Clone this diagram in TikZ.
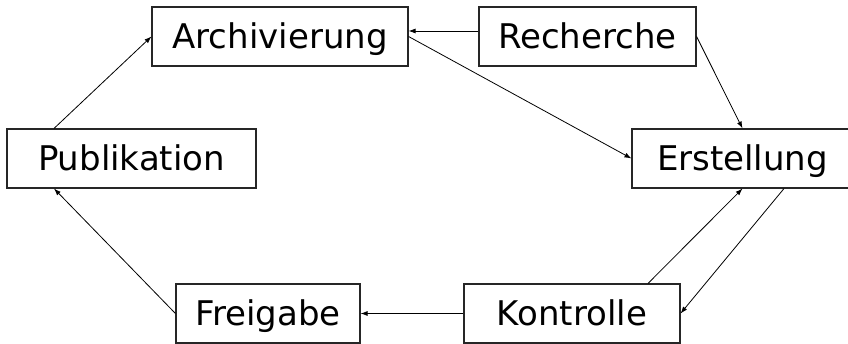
\documentclass[tikz,border=0pt]{standalone}
\usepackage{fontspec}
\setmainfont{DejaVu Sans}
\usetikzlibrary{arrows.meta}
\begin{document}
\begin{tikzpicture}[x=1pt,y=-1pt,
  stage/.style={draw=black!85, line width=1.1pt, fill=white,
    minimum height=59pt, inner sep=0pt,
    text height=25pt, text depth=0pt,
    font=\fontsize{34}{40}\selectfont},
  flow/.style={line width=0.8pt, -{Latex[length=7pt,width=5pt]}}]
  \useasboundingbox (0,0) rectangle (848,344);
  \fill[white] (0,0) rectangle (848,344);

  % workflow stages
  \node[stage, minimum width=256pt] (arch)  at (280,36.5)   {Archivierung};
  \node[stage, minimum width=217pt] (rech)  at (587.5,36.5) {Recherche};
  \node[stage, minimum width=249pt] (publ)  at (131.5,158.5) {Publikation};
  \node[stage, minimum width=221pt] (erst)  at (742.5,158.5) {Erstellung};
  \node[stage, minimum width=184pt] (freig) at (268,313.5)  {Freigabe};
  \node[stage, minimum width=216pt] (kont)  at (572,313.5)  {Kontrolle};

  % transitions
  \draw[flow] ([yshift=5.5pt]rech.west) -- ([yshift=5.5pt]arch.east);
  \draw[flow] (arch.east) -- (erst.west);
  \draw[flow] (rech.east) -- (erst.north);
  \draw[flow] ([xshift=41.5pt]erst.south) -- (kont.east);
  \draw[flow] ([xshift=76pt]kont.north) -- (erst.south);
  \draw[flow] (kont.west) -- (freig.east);
  \draw[flow] (freig.west) -- ([xshift=-77.5pt]publ.south);
  \draw[flow] ([xshift=-77.5pt]publ.north) -- (arch.west);
\end{tikzpicture}
\end{document}
